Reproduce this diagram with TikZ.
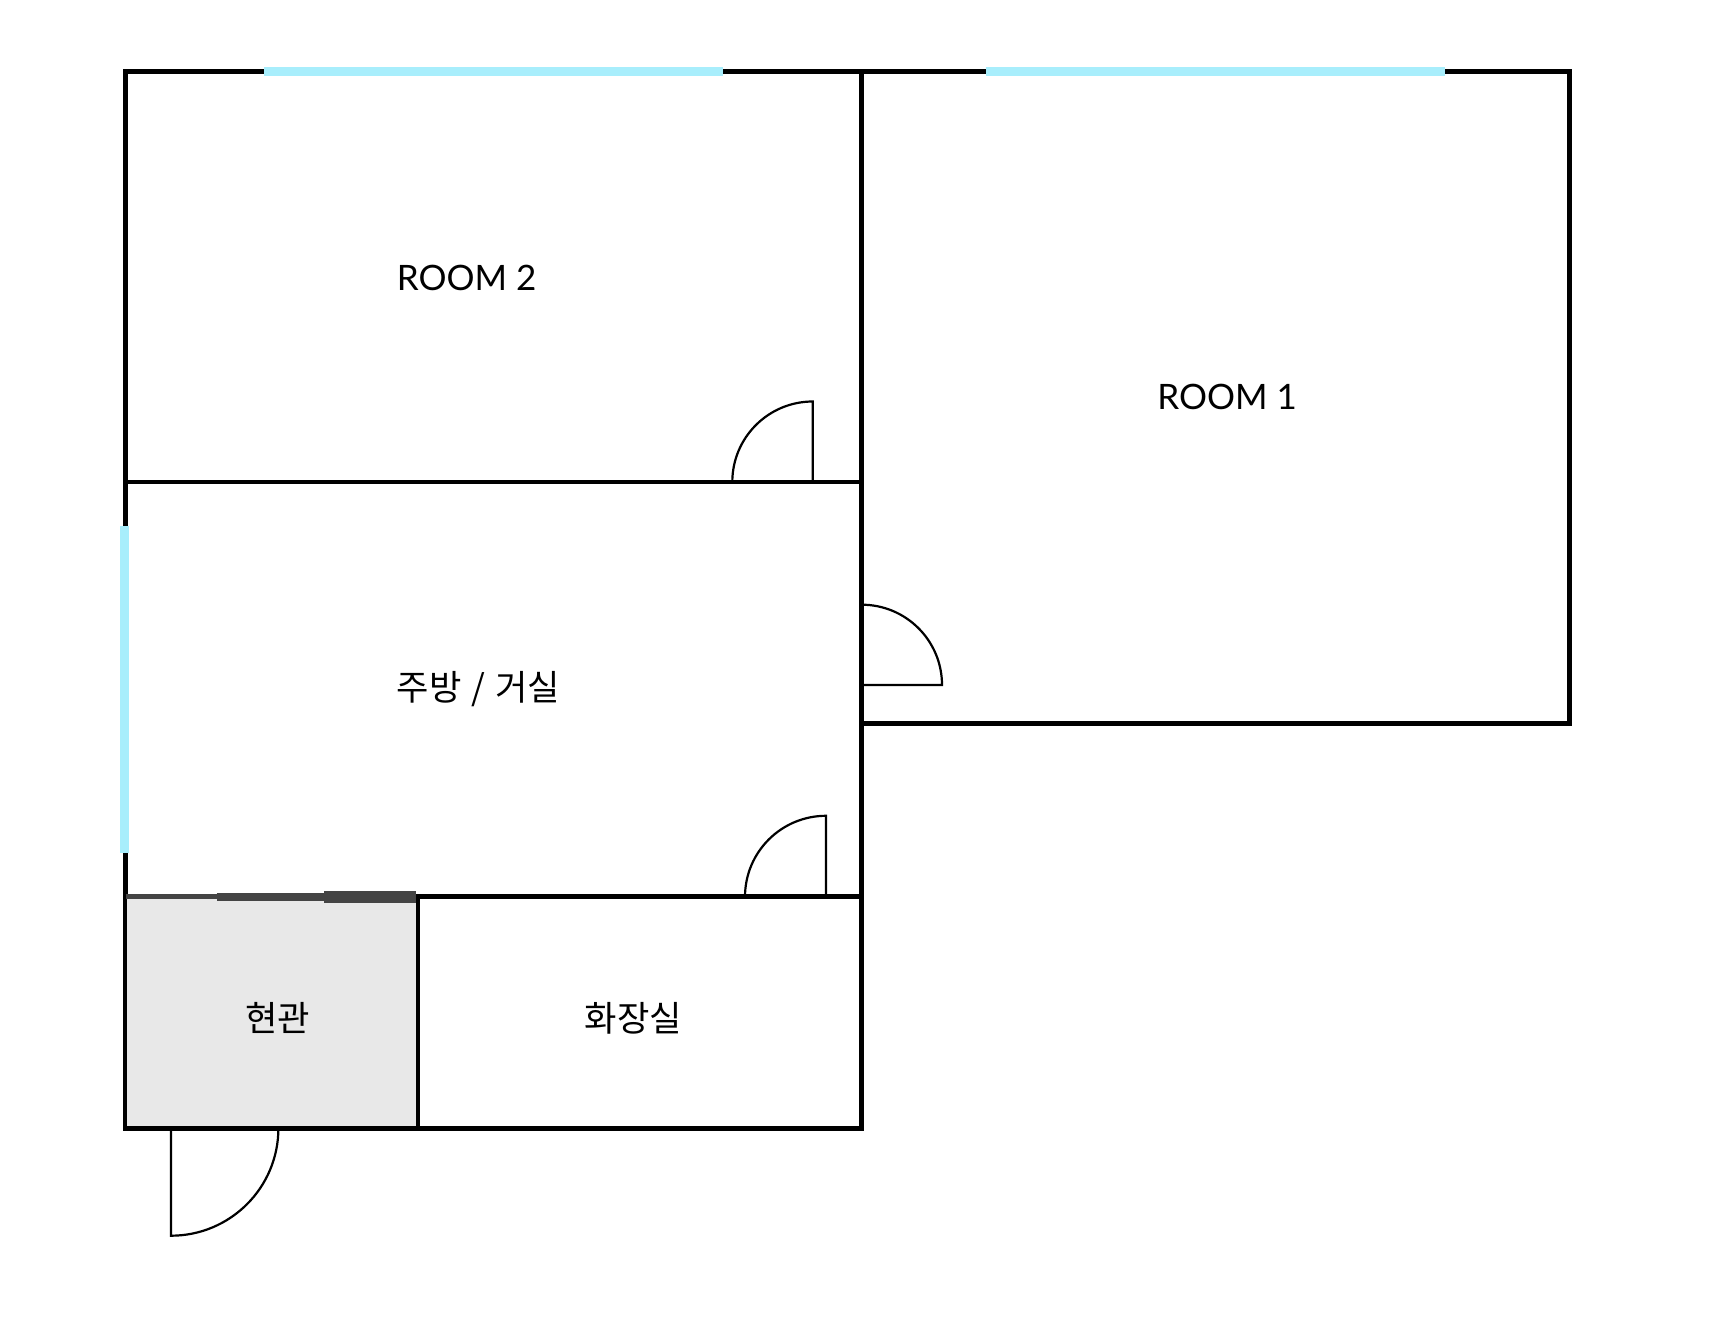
\documentclass[tikz,border=0pt]{standalone}
\usepackage{fontspec}
\setmainfont{Lato}
\newfontfamily\cjk{Noto Sans CJK KR}
\definecolor{glass}{HTML}{A8EEFC}
\definecolor{slide}{HTML}{444444}
\definecolor{entry}{HTML}{E8E8E8}
\begin{document}
\begin{tikzpicture}[x=.5pt,y=.5pt,
  wall/.style={line width=2.4pt,line cap=rect},
  window/.style={glass,line width=4.3pt},
  door/.style={line width=1.1pt,line join=miter},
  roomlabel/.style={font=\fontsize{17.5}{20}\selectfont,inner sep=0pt},
  krlabel/.style={font=\fontsize{17.6}{20}\selectfont\cjk,inner sep=0pt}]
\useasboundingbox (0,0) rectangle (1712,1330);
% Coordinates
\coordinate (tl) at (125.5,1258.5);
\coordinate (tm) at (861.7,1258.5);
\coordinate (tr) at (1569.3,1258.5);
\coordinate (br) at (1569.3,606.7);
\coordinate (rm) at (861.7,606.7);
\coordinate (fl) at (125.5,848);
\coordinate (fm) at (861.7,848);
\coordinate (ll) at (125.5,433.2);
\coordinate (lw) at (417.7,433.2);
\coordinate (lm) at (861.7,433.2);
\coordinate (el) at (125.5,201.7);
\coordinate (ew) at (417.7,201.7);
\coordinate (em) at (861.7,201.7);
% Doors
\draw[door] (732.3,848) arc[start angle=180,end angle=90,radius=80.5] -- (812.8,848);
\draw[door] (745,433.2) arc[start angle=180,end angle=90,radius=81] -- (826,433.2);
\draw[door] (861.7,645) -- (942,645) arc[start angle=0,end angle=90,radius=80.3];
\draw[door] (171,201.7) -- (171,94.3) arc[start angle=-90,end angle=0,radius=107.4];
% Walls
\draw[wall] (ll) -- (tl) -- (tr) -- (br) -- (rm);
\draw[wall] (tm) -- (em) -- (el) -- (ll);
\draw[wall] (fl) -- (fm);
\draw[wall] (lw) -- (lm);
\draw[wall] (lw) -- (ew);
% Entrance floor
\fill[entry] (127,433.2) rectangle (416,203.6);
% Windows
\draw[window] (264.4,1258.5) -- (723.2,1258.5);
\draw[window] (985.5,1258.5) -- (1445.3,1258.5);
\draw[window] (124.5,804.4) -- (124.5,477.3);
% Sliding door
\draw[slide,line width=2.5pt] (125.5,433.2) -- (216.7,433.2);
\draw[slide,line width=4pt] (216.7,433) -- (324,433);
\draw[slide,line width=6.2pt] (324,433) -- (416,433);
% Labels
\node[roomlabel] (room2) at (466.5,1052) {ROOM 2};
\node[roomlabel] (room1) at (1227,933) {ROOM 1};
\node[krlabel] (living) at (478.5,641) {주방\hspace{1pt} / \hspace{1pt}거실};
\node[krlabel] (hall) at (277.5,312) {현관};
\node[krlabel] (bath) at (633.5,312) {화장실};
\end{tikzpicture}
\end{document}
